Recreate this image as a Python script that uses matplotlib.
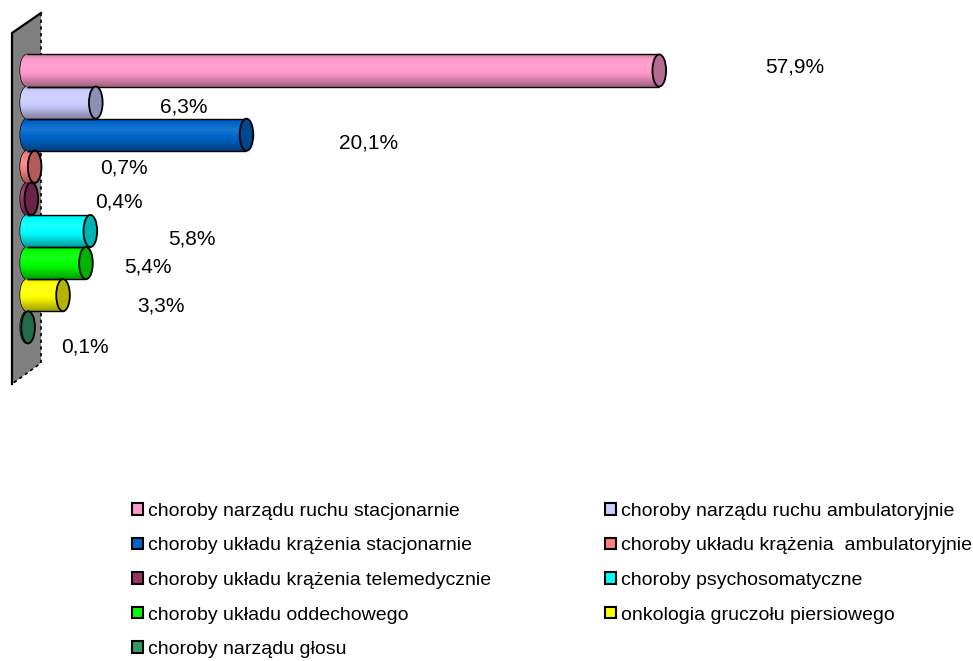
import numpy as np
import matplotlib
matplotlib.use("Agg")
import matplotlib.pyplot as plt
from matplotlib.patches import Ellipse, Rectangle, Polygon
from matplotlib.lines import Line2D
from matplotlib.colors import to_rgb

# ---------------- data ----------------
categories = [
    "choroby narządu ruchu stacjonarnie",
    "choroby narządu ruchu ambulatoryjnie",
    "choroby układu krążenia stacjonarnie",
    "choroby układu krążenia  ambulatoryjnie",
    "choroby układu krążenia telemedycznie",
    "choroby psychosomatyczne",
    "choroby układu oddechowego",
    "onkologia gruczołu piersiowego",
    "choroby narządu głosu",
]
values = [57.9, 6.3, 20.1, 0.7, 0.4, 5.8, 5.4, 3.3, 0.1]
value_labels = ["57,9%", "6,3%", "20,1%", "0,7%", "0,4%", "5,8%", "5,4%", "3,3%", "0,1%"]

# ---------------- styles ----------------
colors = ["#FF99CC", "#CCCCFF", "#0066CC", "#FF8080", "#993366",
          "#00FFFF", "#00FF00", "#FFFF00", "#339966"]
# label offsets (x in %, y in category units) as in the original 3D layout
label_dx = [12.4, 8.1, 11.2, 8.2, 8.0, 9.3, 5.7, 9.0, 5.2]
label_dy = [-0.12, 0.14, 0.25, 0.05, 0.11, 0.25, 0.12, 0.33, 0.6]

W, H = 973, 661
fig = plt.figure(figsize=(W / 100, H / 100), dpi=100)
plt.rcParams['font.family'] = ['Liberation Sans', 'DejaVu Sans']

ax = fig.add_axes([0, 0, 1, 1])
px_per_unit = 10.92
x0_px = 27
row_px = 32.1
c0_px = 70.5
ax.axis("off")

# ---------------- 3D wall (decoration, figure pixels) ----------------
def fpx(x, y):
    return (x / W, 1 - y / H)

wall = Polygon([fpx(12, 33), fpx(41, 13), fpx(41, 363), fpx(12, 384)],
               closed=True, transform=fig.transFigure, facecolor="#808080",
               edgecolor="none", zorder=0)
ax.add_patch(wall)
l1 = Line2D(*zip(fpx(12, 384), fpx(12, 33), fpx(41, 13)),
            transform=fig.transFigure, color="black", lw=1.6, zorder=0.5)
l2 = Line2D(*zip(fpx(41, 13), fpx(41, 363), fpx(12, 384)),
            transform=fig.transFigure, color="black", lw=1.2,
            ls=(0, (2, 2)), zorder=0.5)
ax.add_line(l1)
ax.add_line(l2)


def shade(rgb, f):
    rgb = np.array(rgb)
    if f >= 1:
        return rgb + (1 - rgb) * (f - 1)
    return rgb * f


prof_t = np.linspace(0, 1, 64)
prof_f = np.interp(prof_t, [0, 0.12, 0.35, 0.65, 1.0], [0.80, 0.98, 1.10, 0.95, 0.62])

cap_w = 1.25   # ellipse width in % units
bar_h = 1.0

ypos = np.arange(len(values))
bars = ax.barh(ypos, values, height=bar_h, color=colors, edgecolor="none", zorder=3)

for i, (b, v, c) in enumerate(zip(bars, values, colors)):
    rgb = to_rgb(c)
    grad = np.array([shade(rgb, f) for f in prof_f])[:, None, :]
    y_top = b.get_y()
    y_bot = b.get_y() + b.get_height()
    # left rounded end
    le = Ellipse((0, i), cap_w, bar_h, facecolor=c, edgecolor="black", lw=1.0, zorder=2)
    ax.add_patch(le)
    im = ax.imshow(grad, extent=[-cap_w / 2, 0.01 + cap_w / 2, y_bot, y_top],
                   aspect="auto", zorder=2.5, interpolation="bilinear")
    im.set_clip_path(le)
    # body gradient
    im2 = ax.imshow(grad, extent=[0, v, y_bot, y_top], aspect="auto", zorder=3.5,
                    interpolation="bilinear")
    im2.set_clip_path(b)
    ax.plot([0, v], [y_top, y_top], color="black", lw=1.0, zorder=4, solid_capstyle="butt")
    ax.plot([0, v], [y_bot, y_bot], color="black", lw=1.0, zorder=4, solid_capstyle="butt")
    # end cap
    ax.add_patch(Ellipse((v, i), cap_w, bar_h, facecolor=shade(rgb, 0.70),
                         edgecolor="black", lw=1.3, zorder=5))
    ax.text(v + label_dx[i], i + label_dy[i], value_labels[i], ha="center", va="center",
            fontsize=15, color="black", zorder=6)

ax.set_xlim(-x0_px / px_per_unit, (W - x0_px) / px_per_unit)
ax.set_ylim((H - c0_px) / row_px, -c0_px / row_px)

# ---------------- legend ----------------
handles = [Rectangle((0, 0), 1, 1, facecolor=c, edgecolor="black", lw=1.5) for c in colors]
left_idx = [0, 2, 4, 6, 8]
right_idx = [1, 3, 5, 7]
common = dict(frameon=False, fontsize=14, handlelength=0.58, handleheight=0.55,
              handletextpad=0.22, labelspacing=0.9, borderpad=0, borderaxespad=0,
              loc="upper left")
leg1 = fig.legend([handles[k] for k in left_idx], [categories[k] for k in left_idx],
                  bbox_to_anchor=fpx(132, 503), **common)
leg2 = fig.legend([handles[k] for k in right_idx], [categories[k] for k in right_idx],
                  bbox_to_anchor=fpx(605, 503), **common)

fig.savefig("out.png", dpi=100)
